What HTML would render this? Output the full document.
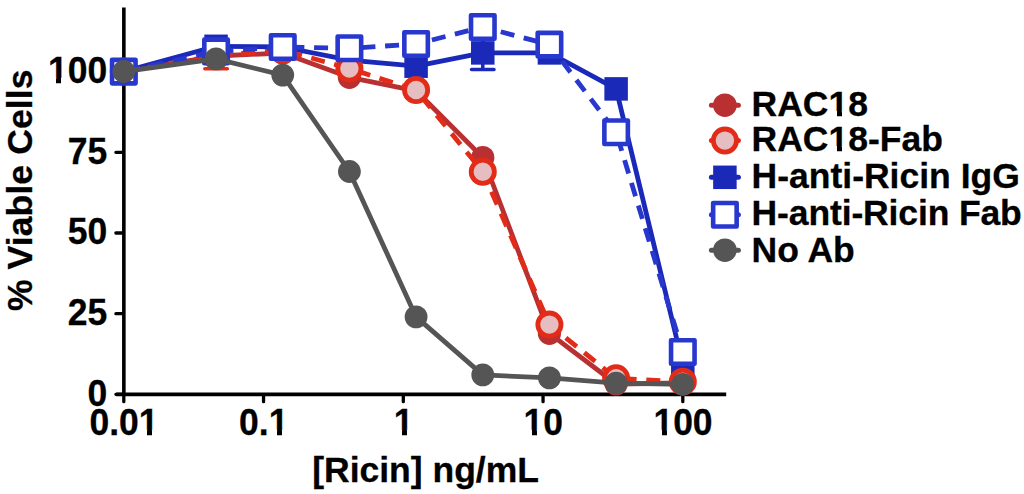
<!DOCTYPE html>
<html><head><meta charset="utf-8"><title>Ricin neutralization</title>
<style>
html,body{margin:0;padding:0;background:#fff;}
body{width:1024px;height:494px;overflow:hidden;position:relative;}
svg{display:block;position:absolute;left:0;top:0}
.t{position:absolute;white-space:nowrap;line-height:1;font-family:"Liberation Sans",sans-serif;font-weight:700;font-size:35.5px;color:#000;-webkit-text-stroke:0.3px #000}
.d{transform:scaleY(1.03);transform-origin:0 29.0px}
.o{position:relative}
.o::before,.o::after{content:"";position:absolute;background:#fff;top:27.3px;height:5.4px}
.o::before{left:0.02em;width:calc(0.2134em - 0.15px)}
.o::after{left:calc(0.37061em + 0.15px);width:0.186em}
</style></head><body>
<svg width="1024" height="494" viewBox="0 0 1024 494">
<rect width="1024" height="494" fill="#fff"/>
<g id="axes">
<path d="M123.85 7.5V396" stroke="#000" stroke-width="3.6" stroke-linecap="butt" fill="none"/>
<path d="M116.2 394.35H726.2" stroke="#000" stroke-width="3.6" fill="none"/>
<path d="M115.9 394.35H123 M115.9 313.67H123 M115.9 232.99H123 M115.9 152.30H123 M115.9 71.62H123 M123.80 395V401.7 M263.55 395V401.7 M403.30 395V401.7 M543.05 395V401.7 M682.80 395V401.7" stroke="#000" stroke-width="3.3" stroke-linecap="round" fill="none"/>
</g>
<g id="series">
<path d="M216.06 42.20V68.80M204.81 42.20h22.5M204.81 68.80h22.5" stroke="#E22C18" stroke-width="3.5" stroke-linecap="round" fill="none"/>
<path d="M482.77 36.20V69.60M471.52 36.20h22.5M471.52 69.60h22.5" stroke="#1B29B9" stroke-width="3.5" stroke-linecap="round" fill="none"/>
<polyline points="123.80,71.50 216.06,56.00 282.73,53.00 349.41,77.30 416.09,90.80 482.77,157.50 549.44,333.30 616.12,384.00 682.80,383.00" fill="none" stroke="#B93032" stroke-width="4.8" stroke-linejoin="round"/>
<circle cx="123.80" cy="71.50" r="11.6" fill="#B93032"/>
<circle cx="216.06" cy="56.00" r="11.6" fill="#B93032"/>
<circle cx="282.73" cy="53.00" r="11.6" fill="#B93032"/>
<circle cx="349.41" cy="77.30" r="11.6" fill="#B93032"/>
<circle cx="416.09" cy="90.80" r="11.6" fill="#B93032"/>
<circle cx="482.77" cy="157.50" r="11.6" fill="#B93032"/>
<circle cx="549.44" cy="333.30" r="11.6" fill="#B93032"/>
<circle cx="616.12" cy="384.00" r="11.6" fill="#B93032"/>
<circle cx="682.80" cy="383.00" r="11.6" fill="#B93032"/>
<polyline points="123.80,71.60 216.06,46.30 282.73,47.00 349.41,60.20 416.09,66.20 482.77,52.90 549.44,52.90 616.12,88.90 682.80,364.00" fill="none" stroke="#1B29B9" stroke-width="4.8" stroke-linejoin="round"/>
<rect x="112.05" y="59.85" width="23.5" height="23.5" fill="#1B29B9"/>
<rect x="204.31" y="34.55" width="23.5" height="23.5" fill="#1B29B9"/>
<rect x="270.98" y="35.25" width="23.5" height="23.5" fill="#1B29B9"/>
<rect x="337.66" y="48.45" width="23.5" height="23.5" fill="#1B29B9"/>
<rect x="404.34" y="54.45" width="23.5" height="23.5" fill="#1B29B9"/>
<rect x="471.02" y="41.15" width="23.5" height="23.5" fill="#1B29B9"/>
<rect x="537.69" y="41.15" width="23.5" height="23.5" fill="#1B29B9"/>
<rect x="604.37" y="77.15" width="23.5" height="23.5" fill="#1B29B9"/>
<rect x="671.05" y="352.25" width="23.5" height="23.5" fill="#1B29B9"/>
<polyline points="123.80,71.50 216.06,55.50 282.73,50.20 349.41,68.50 416.09,90.00 482.77,171.80 549.44,324.60 616.12,378.30 682.80,381.70" fill="none" stroke="#E22C18" stroke-width="4.8" stroke-linejoin="round" stroke-dasharray="14 9.7" stroke-dashoffset="-0.5"/>
<circle cx="123.80" cy="71.50" r="11.6" fill="#E6BEC1" stroke="#E22C18" stroke-width="4.8"/>
<circle cx="216.06" cy="55.50" r="11.6" fill="#E6BEC1" stroke="#E22C18" stroke-width="4.8"/>
<circle cx="282.73" cy="50.20" r="11.6" fill="#E6BEC1" stroke="#E22C18" stroke-width="4.8"/>
<circle cx="349.41" cy="68.50" r="11.6" fill="#E6BEC1" stroke="#E22C18" stroke-width="4.8"/>
<circle cx="416.09" cy="90.00" r="11.6" fill="#E6BEC1" stroke="#E22C18" stroke-width="4.8"/>
<circle cx="482.77" cy="171.80" r="11.6" fill="#E6BEC1" stroke="#E22C18" stroke-width="4.8"/>
<circle cx="549.44" cy="324.60" r="11.6" fill="#E6BEC1" stroke="#E22C18" stroke-width="4.8"/>
<circle cx="616.12" cy="378.30" r="11.6" fill="#E6BEC1" stroke="#E22C18" stroke-width="4.8"/>
<circle cx="682.80" cy="381.70" r="11.6" fill="#E6BEC1" stroke="#E22C18" stroke-width="4.8"/>
<polyline points="123.80,71.60 216.06,51.40 282.73,47.05 349.41,48.30 416.09,44.00 482.77,27.05 549.44,44.60 616.12,132.30 682.80,352.00" fill="none" stroke="#2837CD" stroke-width="4.8" stroke-linejoin="round" stroke-dasharray="14 9.7" stroke-dashoffset="-3.0"/>
<rect x="112.05" y="59.85" width="23.5" height="23.5" fill="#FFFFFF" stroke="#2837CD" stroke-width="4.6" stroke-linejoin="round"/>
<rect x="204.31" y="39.65" width="23.5" height="23.5" fill="#FFFFFF" stroke="#2837CD" stroke-width="4.6" stroke-linejoin="round"/>
<rect x="270.98" y="35.30" width="23.5" height="23.5" fill="#FFFFFF" stroke="#2837CD" stroke-width="4.6" stroke-linejoin="round"/>
<rect x="337.66" y="36.55" width="23.5" height="23.5" fill="#FFFFFF" stroke="#2837CD" stroke-width="4.6" stroke-linejoin="round"/>
<rect x="404.34" y="32.25" width="23.5" height="23.5" fill="#FFFFFF" stroke="#2837CD" stroke-width="4.6" stroke-linejoin="round"/>
<rect x="471.02" y="15.30" width="23.5" height="23.5" fill="#FFFFFF" stroke="#2837CD" stroke-width="4.6" stroke-linejoin="round"/>
<rect x="537.69" y="32.85" width="23.5" height="23.5" fill="#FFFFFF" stroke="#2837CD" stroke-width="4.6" stroke-linejoin="round"/>
<rect x="604.37" y="120.55" width="23.5" height="23.5" fill="#FFFFFF" stroke="#2837CD" stroke-width="4.6" stroke-linejoin="round"/>
<rect x="671.05" y="340.25" width="23.5" height="23.5" fill="#FFFFFF" stroke="#2837CD" stroke-width="4.6" stroke-linejoin="round"/>
<polyline points="123.80,71.50 216.06,58.90 282.73,75.10 349.41,171.50 416.09,316.90 482.77,374.90 549.44,377.90 616.12,383.10 682.80,384.30" fill="none" stroke="#555555" stroke-width="4.8" stroke-linejoin="round"/>
<circle cx="123.80" cy="71.50" r="11.4" fill="#555555"/>
<circle cx="216.06" cy="58.90" r="11.4" fill="#555555"/>
<circle cx="282.73" cy="75.10" r="11.4" fill="#555555"/>
<circle cx="349.41" cy="171.50" r="11.4" fill="#555555"/>
<circle cx="416.09" cy="316.90" r="11.4" fill="#555555"/>
<circle cx="482.77" cy="374.90" r="11.4" fill="#555555"/>
<circle cx="549.44" cy="377.90" r="11.4" fill="#555555"/>
<circle cx="616.12" cy="383.10" r="11.4" fill="#555555"/>
<circle cx="682.80" cy="384.30" r="11.4" fill="#555555"/>
</g>
<g id="legend">
<path d="M711.40 105.2H738.40" stroke="#B93032" stroke-width="5" stroke-linecap="round"/>
<circle cx="724.90" cy="105.20" r="11.8" fill="#B93032"/>
<path d="M711.40 140.6H738.40" stroke="#E22C18" stroke-width="5" stroke-linecap="round"/>
<circle cx="724.90" cy="140.60" r="11.6" fill="#E6BEC1" stroke="#E22C18" stroke-width="4.8"/>
<path d="M711.40 177.3H738.40" stroke="#1B29B9" stroke-width="5" stroke-linecap="round"/>
<rect x="713.15" y="165.55" width="23.5" height="23.5" fill="#1B29B9"/>
<path d="M711.40 214.7H738.40" stroke="#2837CD" stroke-width="5" stroke-linecap="round"/>
<rect x="713.15" y="202.95" width="23.5" height="23.5" fill="#FFFFFF" stroke="#2837CD" stroke-width="4.6" stroke-linejoin="round"/>
<path d="M711.40 250.2H738.40" stroke="#555555" stroke-width="5" stroke-linecap="round"/>
<circle cx="724.90" cy="250.20" r="11.8" fill="#555555"/>
</g>
</svg>
<div id="labels">
<div class="t d" style="top:377.00px;right:916.70px;text-align:right;">0</div>
<div class="t d" style="top:296.00px;right:916.70px;text-align:right;">25</div>
<div class="t d" style="top:215.00px;right:916.70px;text-align:right;">50</div>
<div class="t d" style="top:135.00px;right:916.70px;text-align:right;">75</div>
<div class="t d" style="top:54.00px;right:916.70px;text-align:right;"><span class="o">1</span>00</div>
<div class="t d" style="top:406.00px;left:64.00px;width:120px;text-align:center;">0.0<span class="o">1</span></div>
<div class="t d" style="top:406.00px;left:203.75px;width:120px;text-align:center;">0.<span class="o">1</span></div>
<div class="t d" style="top:406.00px;left:343.50px;width:120px;text-align:center;"><span class="o">1</span></div>
<div class="t d" style="top:406.00px;left:483.25px;width:120px;text-align:center;"><span class="o">1</span>0</div>
<div class="t d" style="top:406.00px;left:623.00px;width:120px;text-align:center;"><span class="o">1</span>00</div>
<div class="t" style="top:453.00px;left:312.20px;">[Ricin] ng/mL</div>
<div class="t" style="left:0;top:0;transform-origin:0 0;transform:translate(32.4px,311.1px) rotate(-90deg) translate(0,-29.0px);letter-spacing:0.12px">% Viable Cells</div>
<div class="t" style="top:87.00px;left:751.60px;">RAC<span class="o">1</span>8</div>
<div class="t" style="top:122.00px;left:751.60px;">RAC<span class="o">1</span>8-Fab</div>
<div class="t" style="top:159.00px;left:751.60px;">H-anti-Ricin IgG</div>
<div class="t" style="top:196.00px;left:751.60px;letter-spacing:-0.13px;">H-anti-Ricin Fab</div>
<div class="t" style="top:233.00px;left:751.60px;">No Ab</div>
</div>
</body></html>
